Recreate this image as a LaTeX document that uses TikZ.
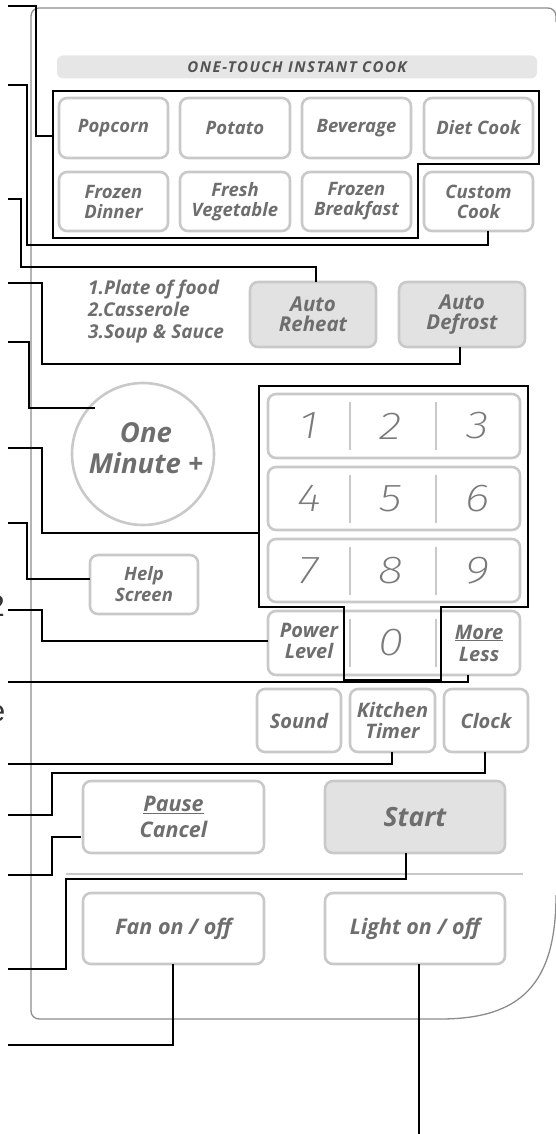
\documentclass[tikz,border=0pt]{standalone}
\usepackage{fontspec}
\setmainfont{Open Sans}
\newfontfamily\digfont{Fira Sans}[UprightFont={* ExtraLight Italic}, FakeStretch=1.2]
\newfontfamily\lblfont{Liberation Sans}
\definecolor{btnline}{HTML}{C9C9C9}
\definecolor{txtc}{HTML}{6E6E6E}
\definecolor{digc}{HTML}{7A7A7A}
\definecolor{keyfill}{HTML}{E2E2E2}
\definecolor{barc}{HTML}{E6E6E6}
\definecolor{panelc}{HTML}{8C8C8C}
\newcommand\btnf{\fontsize{18.5}{20}\selectfont\bfseries\itshape}
\newcommand\lowf{\fontsize{20}{21}\selectfont\bfseries\itshape}
\tikzset{
  btn/.style={draw=btnline, line width=2.6pt, rounded corners=8pt, fill=white,
    inner sep=0pt, align=center, text=txtc, font=\btnf},
  graybtn/.style={btn, fill=keyfill},
  plain/.style={inner sep=0pt, align=center, text=txtc},
  digit/.style={inner sep=0pt, text=digc, font=\digfont\fontsize{39}{39}\selectfont},
  divider/.style={draw=btnline, line width=2.4pt},
  conn/.style={draw=black, line width=1.2pt},
  outline/.style={draw=black, line width=1.4pt},
  panel/.style={draw=panelc, line width=1.3pt},
  lbl/.style={inner sep=0pt, text=black!80, font=\lblfont\fontsize{30}{30}\selectfont},
}
\begin{document}
\begin{tikzpicture}[x=1pt,y=-1pt]
\useasboundingbox (0,0) rectangle (555,1134);
% panel outline (its right edge lies just outside the picture)
\draw[panel, rounded corners=8pt] (440,1019) -- (31,1019) -- (31,8) -- (556,8) -- (556,22);
\draw[panel] (556,895) .. controls (556,985) and (520,1019) .. (440,1019);
% title bar
\node[fill=barc, rounded corners=6pt, minimum width=480, minimum height=23, inner sep=0pt,
  text=txtc!75!black, font=\fontsize{15}{15}\selectfont\bfseries\itshape\addfontfeature{LetterSpace=10}] (bar) at (297,67) {ONE-TOUCH INSTANT COOK};
% one-touch buttons
\node[btn, minimum width=109, minimum height=60] (popcorn) at (113.5,128) {Popcorn};
\node[btn, minimum width=110, minimum height=60] (potato) at (235,128) {Potato};
\node[btn, minimum width=109, minimum height=60] (beverage) at (356.5,128) {Beverage};
\node[btn, minimum width=109, minimum height=60] (diet) at (478.5,128) {Diet Cook};
\node[btn, minimum width=109, minimum height=59] (fdinner) at (113.5,201.5) {Frozen\\Dinner};
\node[btn, minimum width=110, minimum height=59] (fveg) at (235,201.5) {Fresh\\Vegetable};
\node[btn, minimum width=109, minimum height=59] (fbreak) at (356.5,201.5) {Frozen\\Breakfast};
\node[btn, minimum width=109, minimum height=59] (custom) at (478.5,201.5) {Custom\\Cook};
% auto row
\node[plain, anchor=west, align=left, font=\fontsize{19}{22}\selectfont\bfseries\itshape] (plate) at (88,312) {1.Plate of food\\2.Casserole\\3.Soup \& Sauce};
\node[graybtn, minimum width=126, minimum height=65, font=\fontsize{20.5}{20.5}\selectfont\bfseries\itshape] (reheat) at (313,314.5) {Auto\\Reheat};
\node[graybtn, minimum width=126, minimum height=65, font=\fontsize{20.5}{20.5}\selectfont\bfseries\itshape] (defrost) at (462,314.5) {Auto\\Defrost};
% one minute
\node[circle, draw=btnline, line width=2.6pt, fill=white, minimum size=142, inner sep=0pt] (onemin) at (143,454) {};
\node[plain, font=\fontsize{27.5}{31}\selectfont\bfseries\itshape] (onemintext) at (146,448) {One\\Minute +};
% keypad
\node[btn, minimum width=252, minimum height=64] (row1) at (394,426) {};
\node[btn, minimum width=252, minimum height=63] (row2) at (394,498.5) {};
\node[btn, minimum width=252, minimum height=63] (row3) at (394,570.5) {};
\node[btn, minimum width=252, minimum height=64] (row4) at (394,643) {};
\foreach \yc in {426,498.5,570.5,643} {
  \draw[divider] (350,\yc-24) -- (350,\yc+24);
  \draw[divider] (436,\yc-24) -- (436,\yc+24);
}
\node[digit] (k1) at (309,426) {1};
\node[digit] (k2) at (391,426) {2};
\node[digit] (k3) at (478,426) {3};
\node[digit] (k4) at (309,498.5) {4};
\node[digit] (k5) at (391,498.5) {5};
\node[digit] (k6) at (478,498.5) {6};
\node[digit] (k7) at (309,570.5) {7};
\node[digit] (k8) at (391,570.5) {8};
\node[digit] (k9) at (478,570.5) {9};
\node[digit] (k0) at (391,643) {0};
\node[plain, font=\lowf] (power) at (309,641) {Power\\Level};
\node[plain, font=\fontsize{20}{22}\selectfont\bfseries\itshape] (moreless) at (479,643) {\underline{More}\\Less};
% help
\node[btn, minimum width=108, minimum height=59, font=\fontsize{18.5}{21}\selectfont\bfseries\itshape] (help) at (144,584.5) {Help\\Screen};
% sound row
\node[btn, minimum width=84, minimum height=63, font=\lowf] (sound) at (299,720.5) {Sound};
\node[btn, minimum width=85, minimum height=63, font=\lowf] (ktimer) at (392.5,720.5) {Kitchen\\Timer};
\node[btn, minimum width=84, minimum height=63, font=\lowf] (clock) at (486,720.5) {Clock};
% pause / start
\node[btn, minimum width=181, minimum height=72, font=\fontsize{21.5}{26}\selectfont\bfseries\itshape] (pause) at (173.5,817) {\underline{Pause}\\Cancel};
\node[graybtn, minimum width=180, minimum height=72, font=\fontsize{26.5}{26.5}\selectfont\bfseries\itshape] (start) at (415,817) {Start};
\draw[draw=btnline, line width=1.5pt] (66,874) -- (523,874);
% fan / light
\node[btn, minimum width=181, minimum height=71, font=\fontsize{21.5}{22}\selectfont\bfseries\itshape] (fan) at (173.5,928.5) {Fan on / off};
\node[btn, minimum width=180, minimum height=71, font=\fontsize{21.5}{22}\selectfont\bfseries\itshape] (light) at (415,928.5) {Light on / off};
% outlined groups
\draw[outline] (53,91) -- (539,91) -- (539,164) -- (418,164) -- (418,238) -- (53,238) -- cycle;
\draw[outline] (259,386) -- (528,386) -- (528,607) -- (441,607) -- (441,680) -- (344,680) -- (344,607) -- (259,607) -- cycle;
% clipped labels at left edge
\node[lbl, anchor=east] (p1) at (5,606) {2};
\node[lbl, anchor=east] (p2) at (5.5,714) {e};
% connector endpoints
\coordinate (la) at (8,6);   \coordinate (ta) at (53,136);
\coordinate (lb) at (8,85);  \coordinate (tb) at (488,231);
\coordinate (lc) at (8,199); \coordinate (tc) at (316,282);
\coordinate (ld) at (8,283); \coordinate (td) at (460,347);
\coordinate (le) at (8,342); \coordinate (te) at (95,408);
\coordinate (lf) at (8,448); \coordinate (tf) at (259,533);
\coordinate (lg) at (8,523); \coordinate (tg) at (90,579);
\coordinate (lh) at (8,610); \coordinate (th) at (268,641);
\coordinate (li) at (8,682); \coordinate (ti) at (468,675);
\coordinate (lj) at (8,764); \coordinate (tj) at (392,752);
\coordinate (lk) at (8,815); \coordinate (tk) at (485,752);
\coordinate (ll) at (8,875); \coordinate (tl) at (81,837);
\coordinate (lm) at (8,969); \coordinate (tm) at (406,853);
\coordinate (ln) at (8,1045); \coordinate (tn) at (173,964);
\coordinate (lo) at (419,1134); \coordinate (to) at (419,964);
% connectors
\draw[conn] (la) -- (36,6) -- (36,136) -- (ta);
\draw[conn] (lb) -- (27,85) -- (27,245) -- (488,245) -- (tb);
\draw[conn] (lc) -- (21,199) -- (21,267) -- (316,267) -- (tc);
\draw[conn] (ld) -- (42,283) -- (42,364) -- (460,364) -- (td);
\draw[conn] (le) -- (29,342) -- (29,408) -- (te);
\draw[conn] (lf) -- (42,448) -- (42,533) -- (tf);
\draw[conn] (lg) -- (27,523) -- (27,579) -- (tg);
\draw[conn] (lh) -- (42,610) -- (42,641) -- (th);
\draw[conn] (li) -- (468,682) -- (ti);
\draw[conn] (lj) -- (392,764) -- (tj);
\draw[conn] (lk) -- (52,815) -- (52,773) -- (485,773) -- (tk);
\draw[conn] (ll) -- (52,875) -- (52,837) -- (tl);
\draw[conn] (lm) -- (66,969) -- (66,879) -- (406,879) -- (tm);
\draw[conn] (ln) -- (173,1045) -- (tn);
\draw[conn] (lo) -- (to);
\end{tikzpicture}
\end{document}
